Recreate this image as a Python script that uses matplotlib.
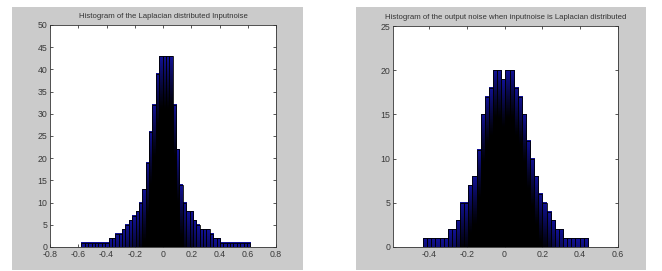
import numpy as np
import matplotlib
matplotlib.use("Agg")
import matplotlib.pyplot as plt
from matplotlib.patches import Rectangle
from matplotlib.ticker import FuncFormatter

# ---- data ----
left_title = "Histogram of the Laplacian distributed Inputnoise"
left_range = (-0.577, 0.618)
left_counts = [1, 1, 1, 1, 1, 1, 1, 1,
               2, 2, 3, 3, 4, 5, 6, 7, 8, 10, 13, 19, 26, 32, 39,
               43, 43, 43, 43, 32, 22, 14, 10, 8, 8, 6, 5, 4, 4, 4, 3, 2, 2,
               1, 1, 1, 1, 1, 1, 1, 1, 1]
left_xticks = [-0.8, -0.6, -0.4, -0.2, 0, 0.2, 0.4, 0.6, 0.8]
left_yticks = [0, 5, 10, 15, 20, 25, 30, 35, 40, 45, 50]

right_title = "Histogram of the output noise when inputnoise is Laplacian distributed"
right_range = (-0.431, 0.44)
right_counts = [1, 1, 1, 1, 1, 1,
                2, 2, 3, 5, 5, 7, 8, 11, 15, 17, 18, 20, 20, 19, 20, 20,
                18, 17, 15, 12, 10, 8, 6, 5, 4, 3, 2, 2,
                1, 1, 1, 1, 1, 1]
right_xticks = [-0.4, -0.2, 0, 0.2, 0.4, 0.6]
right_yticks = [0, 5, 10, 15, 20, 25]

W, H = 662, 271
plt.rcParams["font.family"] = ["Liberation Sans", "DejaVu Sans"]
fig = plt.figure(figsize=(W / 100, H / 100), dpi=100)
fig.patch.set_facecolor("white")


def px_rect(x0, y0, x1, y1):
    return [x0 / W, 1 - y1 / H, (x1 - x0) / W, (y1 - y0) / H]


# gray panel backgrounds (behind everything)
bg = fig.add_axes([0, 0, 1, 1], zorder=-10)
bg.set_xlim(0, W)
bg.set_ylim(H, 0)
bg.axis("off")
gray = "#cbcbcb"
for (x0, x1) in [(12, 303), (356, 646)]:
    bg.add_patch(Rectangle((x0, 7), x1 - x0, 263, facecolor=gray, edgecolor="none"))

fmt = FuncFormatter(lambda v, p: f"{v:g}")
BLUE = np.array([0.07, 0.07, 0.60])
BLACK = np.array([0.0, 0.0, 0.0])


def draw(rect, counts, rng, xlim, xticks, yticks, title, depth):
    ax = fig.add_axes(px_rect(*rect), zorder=1)
    ax.set_facecolor("white")
    n = len(counts)
    edges = np.linspace(rng[0], rng[1], n + 1)
    centers = (edges[:-1] + edges[1:]) / 2
    w = edges[1] - edges[0]
    # each bar: blue at its top fading to black further down
    rows = 80
    for x0, h in zip(edges[:-1], counts):
        yy = (np.arange(rows) + 0.5) / rows * h          # bottom -> top
        t = np.clip(1 - (h - yy) / depth, 0, 1) ** 1.2
        col = BLACK[None, :] * (1 - t[:, None]) + BLUE[None, :] * t[:, None]
        img = np.repeat(col[:, None, :], 2, axis=1)
        ax.imshow(img, extent=(x0, x0 + w, 0, h), origin="lower",
                  aspect="auto", interpolation="bilinear", zorder=2)
    ax.bar(centers, counts, width=w, align="center", fill=False,
           edgecolor="black", linewidth=0.6, zorder=3)
    ax.set_xlim(*xlim)
    ax.set_ylim(yticks[0], yticks[-1])
    ax.set_xticks(xticks)
    ax.set_yticks(yticks)
    ax.xaxis.set_major_formatter(fmt)
    ax.yaxis.set_major_formatter(fmt)
    ax.tick_params(direction="in", length=2.5, width=0.6, labelsize=6.3,
                   colors="#3a3a3a", top=True, right=True, pad=2)
    for s in ax.spines.values():
        s.set_linewidth(0.6)
        s.set_color("#333333")
        s.set_zorder(4)
    ax.set_title(title, fontsize=5.6, color="#333333", pad=5)
    return ax


draw((50, 25, 276, 247), left_counts, left_range, (-0.8, 0.8),
     left_xticks, left_yticks, left_title, 12.0)
draw((393, 26, 618, 247), right_counts, right_range, (-0.59, 0.6),
     right_xticks, right_yticks, right_title, 5.5)

fig.savefig("out.png", dpi=100)
